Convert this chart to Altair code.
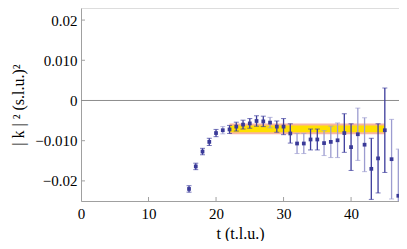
import altair as alt
import pandas as pd

# data
t_vals = list(range(16, 49))
k2_vals = [-0.0220, -0.0164, -0.0127, -0.0103, -0.0081, -0.0074, -0.0072, -0.0065,
           -0.0060, -0.0057, -0.0051, -0.0052, -0.0055, -0.0065, -0.0065, -0.0082,
           -0.0107, -0.0107, -0.0097, -0.0097, -0.0106, -0.0103, -0.0099, -0.0081,
           -0.0116, -0.0084, -0.0110, -0.0170, -0.0144, -0.0074, -0.0146, -0.0237,
           -0.0250]
k2_err = [0.0008, 0.0008, 0.0008, 0.0009, 0.0009, 0.0009, 0.0010, 0.0011,
          0.0011, 0.0012, 0.0013, 0.0013, 0.0013, 0.0014, 0.0020, 0.0024,
          0.0025, 0.0025, 0.0026, 0.0026, 0.0031, 0.0039, 0.0043, 0.0048,
          0.0058, 0.0065, 0.0067, 0.0076, 0.0086, 0.0105, 0.0099, 0.0116,
          0.0152]
bar_style = ["dark", "dark", "dark", "dark", "dark", "light", "dark", "dark",
             "dark", "dark", "dark", "dark", "light", "dark", "dark", "dark",
             "light", "light", "dark", "dark", "light", "light", "light", "dark",
             "dark", "light", "light", "dark", "dark", "dark", "light", "light",
             "dark"]

band_t = [22, 45]
band_outer = [-0.0084, -0.0057]
band_inner = [-0.0079, -0.0062]

x_ticks = [0, 10, 20, 30, 40]
y_ticks = [-0.02, -0.01, 0.0, 0.01, 0.02]
y_tick_labels = ["\u22120.02", "\u22120.010", "0", "0.010", "0.02"]

FONT = "Liberation Serif"
W, H = 318, 193

df = pd.DataFrame({"t": t_vals, "v": k2_vals, "e": k2_err, "s": bar_style})
df["lo"] = df["v"] - df["e"]
df["hi"] = df["v"] + df["e"]

bands = pd.DataFrame({
    "t0": [band_t[0], band_t[0]], "t1": [band_t[1], band_t[1]],
    "lo": [band_outer[0], band_inner[0]], "hi": [band_outer[1], band_inner[1]],
    "kind": ["outer", "inner"],
})

label_expr = ""
for val, lab in zip(y_ticks, y_tick_labels):
    label_expr += f"abs(datum.value - ({val})) < 1e-9 ? '{lab}' : "
label_expr += "''"

xs = alt.Scale(domain=[0, 47.1], nice=False, zero=False)
ys = alt.Scale(domain=[-0.025, 0.023], nice=False, zero=False)

XT = "t (t.l.u.)"
YT = "| k | \u00b2 (s.l.u.)\u00b2"

common = dict(ticks=False, grid=False, domainColor="#a0a0a0", labelFlush=False,
              labelFont=FONT, labelFontSize=15, labelColor="black",
              titleFont=FONT, titleFontSize=16, titleFontWeight="normal",
              titleColor="black")


def xaxis():
    return alt.Axis(values=x_ticks, title=XT, labelPadding=5, titlePadding=4, **common)


def yaxis():
    return alt.Axis(values=y_ticks, title=YT, labelExpr=label_expr,
                    labelPadding=4, titlePadding=8, **common)


band_layer = alt.Chart(bands).mark_rect().encode(
    x=alt.X("t0:Q", scale=xs, axis=xaxis()),
    x2="t1:Q",
    y=alt.Y("lo:Q", scale=ys, axis=yaxis()),
    y2="hi:Q",
    color=alt.Color("kind:N", scale=alt.Scale(domain=["outer", "inner"],
                                             range=["#f7b4a2", "#ffe000"]), legend=None),
)

zero_line = alt.Chart(pd.DataFrame({"z": [0.0]})).mark_rule(
    color="#8c8c8c", strokeWidth=1).encode(y=alt.Y("z:Q", scale=ys, axis=yaxis()))

xt = pd.DataFrame({"t": x_ticks[1:]})
xtick_layer = alt.Chart(xt).mark_rule(color="#a0a0a0").encode(
    x=alt.X("t:Q", scale=xs, axis=xaxis()), y=alt.value(H - 4), y2=alt.value(H))
yt = pd.DataFrame({"v": [v for v in y_ticks if v != 0]})
ytick_layer = alt.Chart(yt).mark_rule(color="#a0a0a0").encode(
    y=alt.Y("v:Q", scale=ys, axis=yaxis()), x=alt.value(0), x2=alt.value(4))

err_layer = alt.Chart(df).mark_errorbar(ticks={"size": 5, "thickness": 1}, thickness=1.3, clip=True).encode(
    x=alt.X("t:Q", scale=xs, axis=xaxis()),
    y=alt.Y("lo:Q", scale=ys, axis=yaxis()),
    y2="hi:Q",
    color=alt.Color("s:N", scale=alt.Scale(domain=["dark", "light"],
                                          range=["#3c3c9c", "#9c9cd0"]), legend=None),
)

pts = alt.Chart(df).mark_square(size=14, color="#3a3a98", opacity=1, clip=True).encode(
    x=alt.X("t:Q", scale=xs, axis=xaxis()), y=alt.Y("v:Q", scale=ys, axis=yaxis()))

chart = alt.layer(band_layer, zero_line, xtick_layer, ytick_layer, err_layer, pts).resolve_scale(
    color="independent"
).properties(
    width=W, height=H,
    autosize=alt.AutoSizeParams(type="none"),
    padding={"left": 73, "top": 0, "right": 0, "bottom": 40},
).configure_view(stroke=None).configure(background="white").configure_axis(**common)

chart.save("out.html", embed_options={"renderer": "svg", "actions": False})
